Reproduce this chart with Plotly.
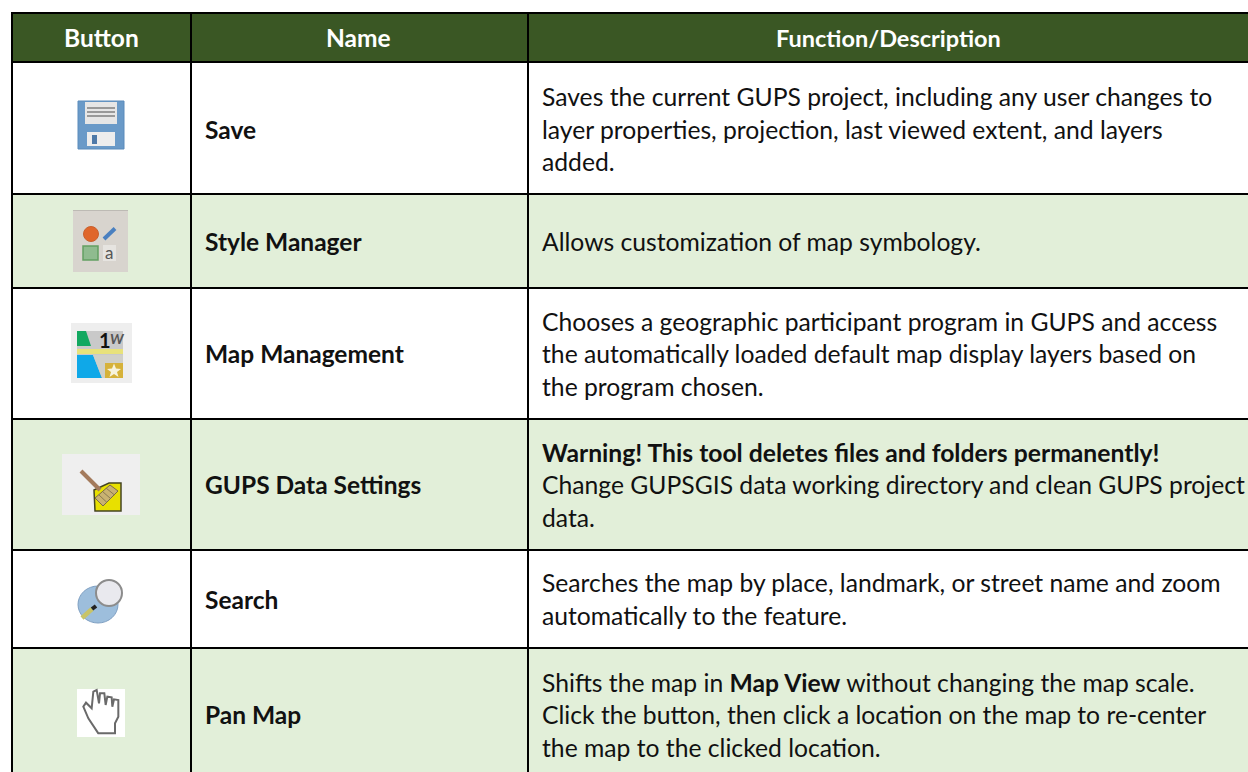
import plotly.graph_objects as go

# ---- table content -------------------------------------------------------
headers = ["Button", "Name", "Function/Description"]
names = ["Save", "Style Manager", "Map Management", "GUPS Data Settings", "Search", "Pan Map"]
descriptions = [
    ["Saves the current GUPS project, including any user changes to",
     "layer properties, projection, last viewed extent, and layers",
     "added."],
    ["Allows customization of map symbology."],
    ["Chooses a geographic participant program in GUPS and access",
     "the automatically loaded default map display layers based on",
     "the program chosen."],
    ["<b>Warning! This tool deletes files and folders permanently!</b>",
     "Change GUPSGIS data working directory and clean GUPS project",
     "data."],
    ["Searches the map by place, landmark, or street name and zoom",
     "automatically to the feature."],
    ["Shifts the map in <b>Map View</b> without changing the map scale.",
     "Click the button, then click a location on the map to re-center",
     "the map to the clicked location."],
]

# ---- page geometry (pixels) ----------------------------------------------
W, H = 1248, 772
col_lines = [12, 191, 528]
row_lines = [13, 62, 194, 288, 419, 550, 648]
row_bottom = H
HEADER_FILL = "#3A5724"
ALT_FILL = "#E2EFD9"
INK = "#111111"
FONT = "Lato"
FS_BODY = 24.7
FS_HEAD = 24.5
LINE_GAP = 32.5

shapes, annos = [], []


def rect(x0, y0, x1, y1, fill, line=None, w=0, layer="above"):
    shapes.append(dict(type="rect", xref="x", yref="y", x0=x0, y0=y0, x1=x1, y1=y1,
                       fillcolor=fill, line=dict(color=line or fill, width=w), layer=layer))


def seg(x0, y0, x1, y1, color, w):
    shapes.append(dict(type="line", xref="x", yref="y", x0=x0, y0=y0, x1=x1, y1=y1,
                       line=dict(color=color, width=w), layer="above"))


def circ(x0, y0, x1, y1, fill, line=None, w=0):
    shapes.append(dict(type="circle", xref="x", yref="y", x0=x0, y0=y0, x1=x1, y1=y1,
                       fillcolor=fill, line=dict(color=line or fill, width=w), layer="above"))


def poly(pts, fill, line=None, w=0):
    d = "M " + " L ".join(f"{x},{y}" for x, y in pts) + " Z"
    shapes.append(dict(type="path", xref="x", yref="y", path=d, fillcolor=fill,
                       line=dict(color=line or fill, width=w), layer="above"))


def text(x, y, s, size=FS_BODY, color=INK, anchor="left"):
    annos.append(dict(x=x, y=y, xref="x", yref="y", text=s, showarrow=False,
                      xanchor=anchor, yanchor="middle",
                      font=dict(family=FONT, size=size, color=color)))


# ---- fills and rules -----------------------------------------------------
bands = list(zip(row_lines[:-1], row_lines[1:])) + [(row_lines[-1], row_bottom)]
rect(col_lines[0], bands[0][0], W, bands[0][1], HEADER_FILL, layer="below")
for i, (a, b) in enumerate(bands[1:]):
    if i % 2 == 1:
        rect(col_lines[0], a, W, b, ALT_FILL, layer="below")
for y in row_lines:
    shapes.append(dict(type="line", xref="x", yref="y", x0=col_lines[0] - 1, x1=W, y0=y, y1=y,
                       line=dict(color="black", width=2), layer="below"))
for x in col_lines:
    shapes.append(dict(type="line", xref="x", yref="y", x0=x, x1=x, y0=row_lines[0], y1=H,
                       line=dict(color="black", width=2), layer="below"))

# ---- text ----------------------------------------------------------------
head_y = (row_lines[0] + row_lines[1]) / 2
text(101, head_y, f"<b>{headers[0]}</b>", FS_HEAD, "white", "center")
text(358, head_y, f"<b>{headers[1]}</b>", FS_HEAD, "white", "center")
text(888, head_y, f"<b>{headers[2]}</b>", 23.5, "white", "center")
row_centres = [129, 241, 353.5, 484.5, 599, 714.5]
for c, n, lines in zip(row_centres, names, descriptions):
    text(203, c, f"<b>{n}</b>", FS_HEAD)
    start = c - LINE_GAP * (len(lines) - 1) / 2
    for j, ln in enumerate(lines):
        text(540, start + j * LINE_GAP, ln)

# ---- icons ---------------------------------------------------------------
# save
rect(78, 101, 124, 149, "#6A9AC8", "#5B8BBB", 1)
rect(85, 102, 117, 124, "#E6E6E6")
for y in (108, 112, 116):
    seg(87, y, 115, y, "#777777", 1.4)
rect(87, 132, 115, 146, "#EDEDED")
rect(92, 135, 97, 144, "#4E79A8")

# style manager
rect(73, 210, 128, 272, "#D8D4CE")
seg(73, 210.5, 128, 210.5, "#BDBAB4", 1)
circ(83.5, 226.5, 98.5, 241.5, "#E0662B", "#C9602E", 1)
seg(104, 239, 115, 228.5, "#4A80C0", 4)
rect(83, 246, 98, 260, "#8FBB8F", "#63A063", 1.5)
rect(103, 245, 116, 261, "#E6E4E0")
text(109, 252.5, "a", 17, "#555555", "center")

# map management
rect(71, 323, 132, 383, "#EEEEEE")
rect(77, 331, 123, 378, "#C9C9C9")
poly([(77, 331), (86, 331), (91, 346), (77, 346)], "#12A860")
rect(77, 349, 123, 354, "#E8E27A")
poly([(77, 355), (93, 355), (102, 378), (77, 378)], "#0FA8E8")
poly([(93, 355), (123, 355), (123, 378), (102, 378)], "#D0D0C8")
rect(105, 363, 123, 378, "#D6B23A")
poly([(114, 363.5), (116, 368.5), (121, 369), (117, 372), (118.5, 377), (114, 374),
      (109.5, 377), (111, 372), (107, 369), (112, 368.5)], "#F7F3DC")
text(105, 340, "<b>1</b>", 20, "#111111", "center")
text(117, 338, "<b><i>W</i></b>", 14, "#555555", "center")

# gups data settings
rect(62, 454, 140, 515, "#EFEFEF")
poly([(94, 490), (109, 483), (121, 483), (121, 511), (95, 511)], "#E8E000", "#444422", 1.5)
seg(81, 471, 100, 490, "#A37A5C", 4)
poly([(95, 498), (110, 485), (118, 491), (103, 506)], "#C9B272", "#7A6A48", 1)
for t in (0.25, 0.5, 0.75):
    seg(95 + 15 * t, 498 - 13 * t, 103 + 15 * t, 506 - 15 * t, "#8A7A50", 1)

# search
circ(78, 586, 118, 623, "#9DBEDC", "#7E9FC2", 1)
circ(96, 580, 122, 606, "#E9E9EE", "#8C8C8C", 2)
seg(82, 618, 92, 609, "#C8C468", 4.5)
seg(92, 609, 96, 606, "#222222", 4)

# pan map
rect(77, 689, 125, 737, "#FFFFFF")
hand = [(115, 160), (85, 115), (70, 80), (78, 68), (95, 85), (100, 35), (110, 30), (117, 70),
        (120, 40), (133, 40), (137, 75), (142, 50), (155, 52), (157, 80), (162, 58), (175, 60),
        (175, 110), (165, 130), (165, 160)]
poly([(60 + x / 3, 680 + y / 3) for x, y in hand], "#FFFFFF", "#6A6A6A", 2)

fig = go.Figure()
fig.update_layout(
    width=W, height=H, margin=dict(l=0, r=0, t=0, b=0),
    paper_bgcolor="white", plot_bgcolor="white", showlegend=False,
    xaxis=dict(range=[0, W], visible=False, fixedrange=True),
    yaxis=dict(range=[H, 0], visible=False, fixedrange=True),
    shapes=shapes, annotations=annos,
)
fig.write_html("out.html", post_script="document.body.style.margin='0';",
               config={"displayModeBar": False})
